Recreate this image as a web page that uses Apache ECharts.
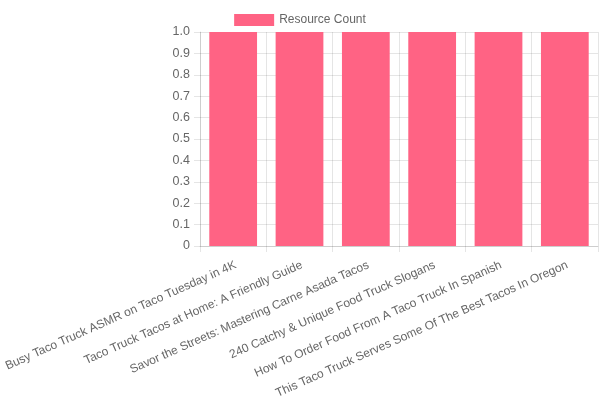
<!DOCTYPE html>
<html>
<head>
<meta charset="utf-8">
<script src="https://cdn.jsdelivr.net/npm/echarts@6/dist/echarts.min.js"></script>
<style>
  html, body { margin: 0; padding: 0; background: #fff; }
  #chart { width: 600px; height: 400px; }
</style>
</head>
<body>
<div id="chart"></div>
<script>
const titles = [
  'Busy Taco Truck ASMR on Taco Tuesday in 4K',
  'Taco Truck Tacos at Home: A Friendly Guide',
  'Savor the Streets: Mastering Carne Asada Tacos',
  '240 Catchy & Unique Food Truck Slogans',
  'How To Order Food From A Taco Truck In Spanish',
  'This Taco Truck Serves Some Of The Best Tacos In Oregon'
];
const resourceCount = [1, 1, 1, 1, 1, 1];

const chart = echarts.init(document.getElementById('chart'));
const gridColor = 'rgba(0,0,0,0.1)';
const textColor = '#666';
const font = 'Liberation Sans, Arial, sans-serif';

chart.setOption({
  animation: false,
  textStyle: { fontFamily: font },
  legend: {
    top: 9,
    left: 'center',
    icon: 'rect',
    itemWidth: 40,
    itemHeight: 12,
    itemGap: 10,
    textStyle: { color: textColor, fontSize: 12, fontFamily: font },
    data: ['Resource Count']
  },
  grid: { left: 200, right: 2, top: 32, bottom: 154, containLabel: false, outerBoundsMode: 'none' },
  xAxis: {
    type: 'category',
    data: titles,
    axisLine: { lineStyle: { color: gridColor } },
    axisTick: { show: true, length: 6, lineStyle: { color: gridColor } },
    splitLine: { show: true, lineStyle: { color: gridColor } },
    axisLabel: {
      interval: 0,
      rotate: 24,
      margin: 13,
      verticalAlign: 'top',
      color: textColor,
      fontSize: 12,
      fontFamily: font
    }
  },
  yAxis: {
    type: 'value',
    min: 0,
    max: 1,
    interval: 0.1,
    axisLine: { show: true, lineStyle: { color: gridColor } },
    axisTick: { show: true, length: 6, lineStyle: { color: gridColor } },
    splitLine: { show: true, lineStyle: { color: gridColor } },
    axisLabel: {
      margin: 10,
      color: textColor,
      fontSize: 12.5,
      fontFamily: font,
      formatter: v => v === 0 ? '0' : v.toFixed(1)
    }
  },
  series: [
    {
      name: 'Resource Count',
      type: 'bar',
      data: resourceCount,
      barWidth: '72%',
      itemStyle: { color: '#ff6384' }
    }
  ]
});
</script>
</body>
</html>
